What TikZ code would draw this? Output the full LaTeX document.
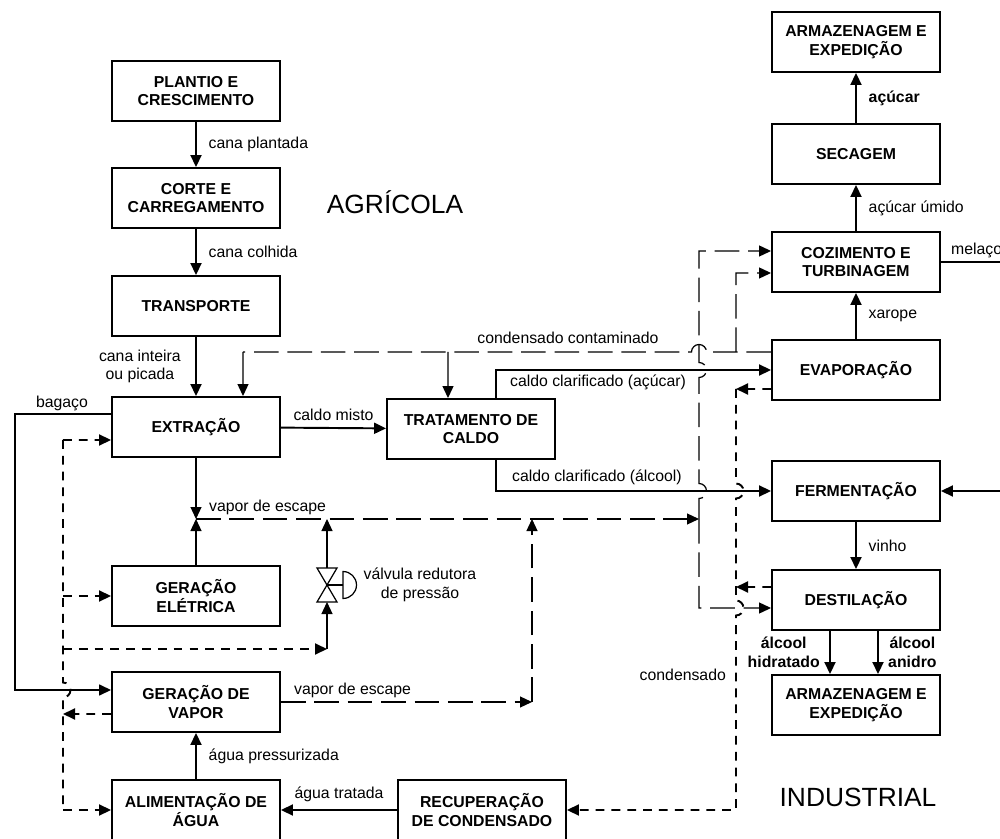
\documentclass[tikz,border=0pt]{standalone}
\usepackage{fontspec}
\setmainfont{Liberation Sans}
\usetikzlibrary{arrows.meta,positioning}

\begin{document}
\begin{tikzpicture}[
  proc/.style={draw, line width=1.1pt, minimum width=3.36cm, minimum height=1.2cm,
               align=center, font=\fontsize{9}{10.5}\selectfont\bfseries},
  lbl/.style={font=\fontsize{9}{10.5}\selectfont, inner sep=1pt},
  blbl/.style={inner sep=1pt, font=\fontsize{9}{10.5}\selectfont\bfseries},
  area/.style={font=\fontsize{15}{18}\selectfont},
  tip/.style={-{Triangle[length=2.4mm,width=2.2mm]}},
  flow/.style={line width=1.1pt, tip},
  link/.style={line width=0.7pt, tip},
  vapor/.style={line width=0.7pt, dash pattern=on 14pt off 5pt},
  cond/.style={line width=1.1pt, dash pattern=on 5pt off 4pt}
]
  \useasboundingbox (0,0) rectangle (20,-16.78);

  \node[proc] (plantio)    at (3.92,-1.82)  {PLANTIO E\\CRESCIMENTO};
  \node[proc] (corte)      at (3.92,-3.96)  {CORTE E\\CARREGAMENTO};
  \node[proc] (transporte) at (3.92,-6.12)  {TRANSPORTE};
  \node[proc] (extracao)   at (3.92,-8.54)  {EXTRAÇÃO};
  \node[proc] (eletrica)   at (3.92,-11.92) {GERAÇÃO\\ELÉTRICA};
  \node[proc] (gvapor)     at (3.92,-14.04) {GERAÇÃO DE\\VAPOR};
  \node[proc] (alim)       at (3.92,-16.2)  {ALIMENTAÇÃO DE\\ÁGUA};
  \node[proc] (recup)      at (9.64,-16.2)  {RECUPERAÇÃO\\DE CONDENSADO};
  \node[proc] (trat)       at (9.42,-8.58)  {TRATAMENTO DE\\CALDO};
  \node[proc] (arm1)       at (17.12,-0.84) {ARMAZENAGEM E\\EXPEDIÇÃO};
  \node[proc] (sec)        at (17.12,-3.08) {SECAGEM};
  \node[proc] (coz)        at (17.12,-5.24) {COZIMENTO E\\TURBINAGEM};
  \node[proc] (evap)       at (17.12,-7.4)  {EVAPORAÇÃO};
  \node[proc] (ferm)       at (17.12,-9.82) {FERMENTAÇÃO};
  \node[proc] (dest)       at (17.12,-12.0) {DESTILAÇÃO};
  \node[proc] (arm2)       at (17.12,-14.1) {ARMAZENAGEM E\\EXPEDIÇÃO};

  \node[area] (agricola)   at (7.9,-4.04)   {AGRÍCOLA};
  \node[area] (industrial) at (17.16,-15.94) {INDUSTRIAL};

  % pontos de junção
  \coordinate (hdrL) at (3.92,-10.38);
  \coordinate (hdrV) at (6.54,-10.38);
  \coordinate (hdrG) at (10.64,-10.38);
  \coordinate (hdrR) at (13.98,-10.38);
  \coordinate (gvc)  at (10.64,-14.04);
  \coordinate (vtop) at (6.54,-11.36);
  \coordinate (vbot) at (6.54,-12.04);
  \coordinate (vcor) at (6.54,-12.98);
  \coordinate (cc1)  at (4.86,-7.04);
  \coordinate (cc2)  at (8.96,-7.04);
  \coordinate (cvj)  at (14.72,-7.04);
  \coordinate (bus1) at (1.26,-8.8);
  \coordinate (bus2) at (1.26,-11.92);
  \coordinate (bus3) at (1.26,-12.98);
  \coordinate (bus4) at (1.26,-14.28);
  \coordinate (bus5) at (1.26,-16.2);
  \coordinate (cb1)  at (14.72,-7.78);
  \coordinate (cb2)  at (14.72,-11.74);
  \coordinate (melout) at (20,-5.24);
  \coordinate (fermin) at (20,-9.82);

  % válvula redutora
  \draw[line width=0.7pt] (6.34,-11.36) -- (6.74,-11.36) -- (6.34,-12.04)
    -- (6.74,-12.04) -- cycle;
  \draw[line width=0.7pt] (6.54,-11.7) -- (6.86,-11.7);
  \draw[line width=0.7pt] (6.86,-11.43) arc[start angle=90,end angle=-90,radius=0.27] -- cycle;
  \node[lbl,align=center] (valvula) at (8.4,-11.7) {válvula redutora\\de pressão};

  \draw[flow] (plantio) -- (corte) node[lbl,midway,right=2mm]{cana plantada};
  \draw[flow] (corte) -- (transporte) node[lbl,midway,right=2mm]{cana colhida};
  \draw[flow] (transporte) -- (extracao)
    node[lbl,midway,left=2.5mm,align=center]{cana inteira\\ou picada};
  \draw[flow] (extracao) -- (trat) node[lbl,midway,above=1mm]{caldo misto};

  \draw[line width=0.9pt,tip] ([yshift=2.6mm]extracao.west) -- (0.3,-8.28)
    -- (0.3,-13.8) -- ([yshift=2.4mm]gvapor.west);
  \node[lbl] (bagaco) at (1.24,-8.06) {bagaço};

  % condensado contaminado
  \draw[vapor] ([yshift=3.6mm]evap.west) -- (14.13,-7.04)
    arc[start angle=0,end angle=180,radius=0.15] -- (cc1);
  \draw[link] (cc1) -- ([xshift=9.4mm]extracao.north);
  \draw[link] (cc2) -- ([xshift=-4.6mm]trat.north);
  \node[lbl] (contam) at (11.36,-6.76) {condensado contaminado};
  \draw[vapor,tip] (cvj) -- (14.72,-5.46) -- ([yshift=-2.2mm]coz.west);

  % caldo clarificado
  \draw[flow] ([xshift=5mm]trat.north) |- (evap.west);
  \node[lbl,anchor=west] (cacucar) at (10.16,-7.64) {caldo clarificado (açúcar)};
  \draw[flow] ([xshift=5mm]trat.south) |- (ferm.west);
  \node[lbl,anchor=west] (calcool) at (10.2,-9.54) {caldo clarificado (álcool)};

  % vapor de escape
  \draw[link] (extracao) -- (hdrL);
  \draw[link] (eletrica) -- (hdrL);
  \draw[link] (vtop) -- (hdrV);
  \draw[cond,tip] (bus3) -- (vcor);
  \draw[link] (vcor) -- (vbot);
  \draw[vapor,tip] (hdrL) -- (hdrR);
  \node[lbl,anchor=west] (escape1) at (4.14,-10.14) {vapor de escape};
  \draw[vapor,tip] (gvapor) -- (gvc);
  \draw[vapor,tip] (gvc) -- (hdrG);
  \node[lbl,anchor=west] (escape2) at (5.84,-13.8) {vapor de escape};
  \draw[vapor,tip] (hdrR) -- (13.98,-9.97) arc[start angle=-90,end angle=90,radius=0.15]
    -- (13.98,-7.55) arc[start angle=-90,end angle=90,radius=0.15]
    -- (13.98,-5.02) -- ([yshift=2.2mm]coz.west);
  \draw[vapor,tip] (hdrR) -- (13.98,-12.16) -- ([yshift=-1.6mm]dest.west);

  % vapor para os processos do lado esquerdo
  \draw[cond,tip] ([yshift=-2.4mm]gvapor.west) -- (bus4);
  \draw[cond] (bus1) -- (1.26,-13.65) arc[start angle=90,end angle=-90,radius=0.15]
    -- (bus5);
  \draw[cond,tip] (bus1) -- ([yshift=-2.6mm]extracao.west);
  \draw[cond,tip] (bus2) -- (eletrica.west);
  \draw[cond,tip] (bus5) -- (alim.west);

  \draw[flow] (alim) -- (gvapor) node[lbl,midway,right=2mm]{água pressurizada};
  \draw[flow] (recup) -- (alim) node[lbl,midway,above=1mm]{água tratada};

  % condensado
  \draw[cond,tip] ([yshift=-3.8mm]evap.west) -- (cb1);
  \draw[cond,tip] ([yshift=2.6mm]dest.west) -- (cb2);
  \draw[cond,tip] (cb1) -- (14.72,-9.67) arc[start angle=90,end angle=-90,radius=0.15]
    -- (14.72,-12.01) arc[start angle=90,end angle=-90,radius=0.15]
    -- (14.72,-16.2) -- (recup.east);
  \node[lbl,anchor=east] (condens) at (14.56,-13.5) {condensado};

  \draw[flow] (evap) -- (coz) node[lbl,midway,right=2mm]{xarope};
  \draw[flow] (coz) -- (sec) node[lbl,midway,right=2mm]{açúcar úmido};
  \draw[flow] (sec) -- (arm1) node[blbl,midway,right=2mm]{açúcar};
  \draw[line width=1.1pt] (coz.east) -- (melout);
  \node[lbl,anchor=south west] (melaco) at (18.98,-5.2) {melaço};
  \draw[flow] (fermin) -- (ferm.east);

  \draw[flow] (ferm) -- (dest) node[lbl,midway,right=2mm]{vinho};
  \draw[flow] ([xshift=-5.2mm]dest.south) -- ([xshift=-5.2mm]arm2.north)
    node[blbl,midway,left=1.5mm,align=center]{álcool\\hidratado};
  \draw[flow] ([xshift=4.4mm]dest.south) -- ([xshift=4.4mm]arm2.north)
    node[blbl,midway,right=1.5mm,align=center]{álcool\\anidro};

\end{tikzpicture}
\end{document}
